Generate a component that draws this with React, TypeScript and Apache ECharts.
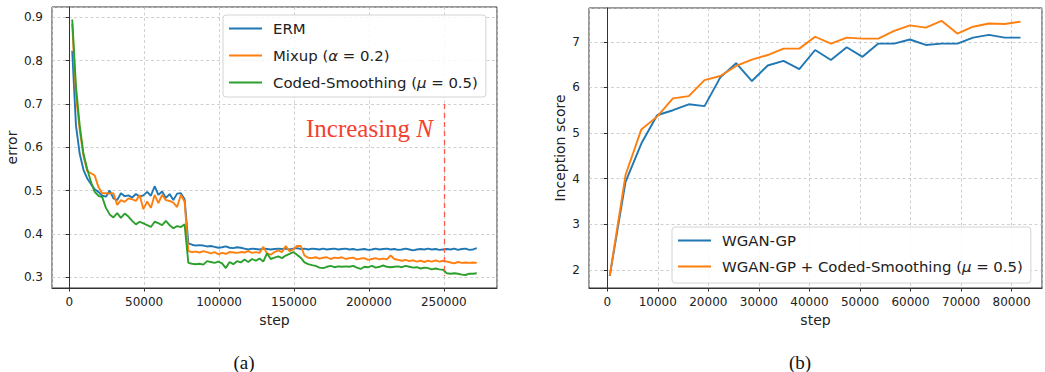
import React, { useEffect, useRef } from "react";
import * as echarts from "echarts";

// ---------- Panel (a): error vs step ----------
const STEP_START = 2000;
const STEP_GAP = 2500;
const ermError = [
  0.823, 0.65, 0.585, 0.548, 0.528, 0.515, 0.503, 0.497, 0.488, 0.486,
  0.5, 0.482, 0.478, 0.494, 0.487, 0.489, 0.484, 0.492, 0.486, 0.489,
  0.497, 0.488, 0.51, 0.49, 0.498, 0.483, 0.492, 0.478, 0.493, 0.494,
  0.48, 0.378, 0.375, 0.373, 0.374, 0.373, 0.371, 0.372, 0.37, 0.368,
  0.369, 0.371, 0.368, 0.367, 0.369, 0.368, 0.366, 0.364, 0.366, 0.365,
  0.364, 0.366, 0.365, 0.364, 0.365, 0.366, 0.365, 0.366, 0.364, 0.366,
  0.367, 0.365, 0.366, 0.364, 0.366, 0.365, 0.364, 0.366, 0.364, 0.365,
  0.366, 0.364, 0.365, 0.366, 0.364, 0.365, 0.363, 0.364, 0.365, 0.363,
  0.364, 0.366, 0.364, 0.365, 0.366, 0.364, 0.365, 0.363, 0.364, 0.366,
  0.364, 0.362, 0.364, 0.365, 0.364, 0.366, 0.364, 0.365, 0.363, 0.364,
  0.365, 0.364, 0.366, 0.363, 0.365, 0.366, 0.363, 0.364, 0.367,
];
const mixupError = [
  0.885, 0.72, 0.64, 0.58, 0.545, 0.54, 0.535, 0.508, 0.494, 0.494,
  0.493, 0.494, 0.467, 0.478, 0.474, 0.482, 0.48, 0.476, 0.49, 0.457,
  0.475, 0.46, 0.49, 0.471, 0.49, 0.478, 0.476, 0.472, 0.462, 0.49,
  0.475, 0.36, 0.358, 0.359, 0.357, 0.36, 0.358, 0.355, 0.358, 0.353,
  0.356, 0.354, 0.358, 0.357, 0.356, 0.358, 0.357, 0.36, 0.356, 0.358,
  0.356, 0.37, 0.355, 0.352, 0.358, 0.362, 0.358, 0.372, 0.36, 0.364,
  0.372, 0.372, 0.35, 0.345, 0.344, 0.346, 0.343, 0.345, 0.346, 0.342,
  0.345, 0.344, 0.346, 0.342, 0.344, 0.345, 0.341, 0.343, 0.344, 0.34,
  0.342, 0.344, 0.341, 0.343, 0.341, 0.35, 0.342, 0.34, 0.338, 0.34,
  0.337, 0.339, 0.336, 0.338, 0.335, 0.338, 0.336, 0.339, 0.336, 0.338,
  0.336, 0.334, 0.332, 0.335, 0.333, 0.334, 0.333, 0.334, 0.333,
];
const codedError = [
  0.895, 0.74, 0.65, 0.585, 0.55, 0.52, 0.497, 0.488, 0.485, 0.46,
  0.445, 0.438, 0.448, 0.437, 0.447, 0.44, 0.43, 0.422, 0.428, 0.424,
  0.42, 0.416, 0.428, 0.425, 0.42, 0.43, 0.42, 0.413, 0.418, 0.416,
  0.422, 0.333, 0.331, 0.33, 0.331, 0.329, 0.337, 0.335, 0.333, 0.336,
  0.332, 0.321, 0.335, 0.33, 0.337, 0.334, 0.341, 0.335, 0.342, 0.338,
  0.343, 0.336, 0.355, 0.342, 0.345, 0.348, 0.344, 0.35, 0.354, 0.358,
  0.352, 0.345, 0.334, 0.33, 0.328, 0.326, 0.322, 0.321, 0.324, 0.326,
  0.323, 0.325, 0.324, 0.325, 0.324, 0.326, 0.322, 0.319, 0.324, 0.323,
  0.326, 0.322, 0.324, 0.327, 0.324, 0.323, 0.324, 0.325, 0.323, 0.326,
  0.324, 0.322, 0.323, 0.32, 0.322, 0.321, 0.318, 0.32, 0.318, 0.317,
  0.309, 0.308, 0.309, 0.308, 0.306, 0.305, 0.308, 0.308, 0.309,
];
const increasingNStep = 250000;
const increasingNRange = [0.7, 0.303];

// ---------- Panel (b): Inception score vs step ----------
const ganSteps = [
  500, 3625, 6750, 9875, 13000, 16125, 19250, 22375, 25500, 28625,
  31750, 34875, 38000, 41125, 44250, 47375, 50500, 53625, 56750, 59875,
  63000, 66125, 69250, 72375, 75500, 78625, 81750,
];
const wganScore = [
  1.87, 3.93, 4.77, 5.39, 5.5, 5.63, 5.59, 6.22, 6.53, 6.14,
  6.48, 6.58, 6.4, 6.82, 6.6, 6.88, 6.67, 6.96, 6.96, 7.05,
  6.93, 6.96, 6.96, 7.09, 7.15, 7.09, 7.09,
];
const wganCodedScore = [
  1.87, 4.08, 5.08, 5.36, 5.76, 5.81, 6.16, 6.25, 6.47, 6.61,
  6.71, 6.85, 6.85, 7.11, 6.96, 7.09, 7.07, 7.07, 7.24, 7.36,
  7.31, 7.46, 7.18, 7.33, 7.4, 7.39, 7.44,
];

const BLUE = "#1f77b4";
const ORANGE = "#ff7f0e";
const GREEN = "#2ca02c";
const TXT = "#222";
const SANS = "DejaVu Sans";
const SERIF = "Liberation Serif";

const legendLabels: Record<string, string> = {
  ERM: "{f|ERM}",
  Mixup: "{f|Mixup (}{i|α}{r| = 0.2)}",
  Coded: "{f|Coded-Smoothing (}{i|μ}{r| = 0.5)}",
  "WGAN-GP": "{f|WGAN-GP}",
  "WGAN-GP + Coded": "{f|WGAN-GP + Coded-Smoothing (}{i|μ}{r| = 0.5)}",
};

const LEG_FS = 14.9;
const legendRich = {
  f: { fontFamily: SANS, fontSize: LEG_FS, color: TXT, padding: [0, 0, 0, 6] },
  r: { fontFamily: SANS, fontSize: LEG_FS, color: TXT },
  i: { fontFamily: SANS, fontSize: LEG_FS, color: TXT, fontStyle: "italic" },
};

function axisCommon() {
  return {
    axisLine: { show: true, lineStyle: { color: "#333", width: 1 } },
    axisTick: { show: true, inside: false, length: 3.5, lineStyle: { color: "#333" } },
    splitLine: { show: true, lineStyle: { color: "#c4c4c4", type: [3, 2.5], width: 0.8 } },
    nameTextStyle: { fontFamily: SANS, fontSize: 14, color: TXT },
  };
}

export default function App() {
  const ref = useRef<HTMLDivElement>(null);

  useEffect(() => {
    if (!ref.current) return;
    const chart = echarts.init(ref.current, undefined, { renderer: "svg" });
    const steps = ermError.map((_, i) => STEP_START + STEP_GAP * i);
    const pair = (xs: number[], ys: number[]) => ys.map((y, i) => [xs[i], y]);
    const lineSeries = (name: string, color: string, data: number[][], gi: number) => ({
      name,
      type: "line",
      xAxisIndex: gi,
      yAxisIndex: gi,
      data,
      showSymbol: false,
      symbol: "none",
      color,
      lineStyle: { color, width: 1.9 },
      z: 3,
    });

    const labelStyle = (margin: number, fmt?: (v: number) => string) => ({
      show: true,
      showMinLabel: false,
      showMaxLabel: false,
      margin,
      fontFamily: SANS,
      fontSize: 12,
      color: TXT,
      formatter: fmt,
    });

    const legendBase = {
      orient: "vertical",
      itemWidth: 33,
      itemHeight: 2,
      icon: "rect",
      backgroundColor: "rgba(255,255,255,0.85)",
      borderColor: "#d4d4d4",
      borderWidth: 1,
      borderRadius: 3,
      formatter: (n: string) => legendLabels[n],
      textStyle: { rich: legendRich },
    };

    const option: any = {
      animation: false,
      backgroundColor: "#fff",
      grid: [
        { left: 52, top: 7, width: 445, height: 281, show: true, borderColor: "#333", borderWidth: 1, backgroundColor: "transparent" },
        { left: 589, top: 8, width: 453, height: 280, show: true, borderColor: "#333", borderWidth: 1, backgroundColor: "transparent" },
      ],
      xAxis: [
        {
          ...axisCommon(),
          type: "value",
          gridIndex: 0,
          min: -11500,
          max: 285500,
          splitNumber: 6,
          name: "step",
          nameLocation: "middle",
          nameGap: 21,
          axisLabel: labelStyle(8, (v: number) => String(Math.round(v))),
        },
        {
          ...axisCommon(),
          type: "value",
          gridIndex: 1,
          min: -3600,
          max: 86000,
          splitNumber: 9,
          name: "step",
          nameLocation: "middle",
          nameGap: 21,
          axisLabel: labelStyle(8, (v: number) => String(Math.round(v))),
        },
      ],
      yAxis: [
        {
          ...axisCommon(),
          type: "value",
          gridIndex: 0,
          min: 0.275,
          max: 0.924,
          splitNumber: 6,
          name: "error",
          nameLocation: "middle",
          nameGap: 33,
          axisLabel: labelStyle(9, (v: number) => v.toFixed(1)),
        },
        {
          ...axisCommon(),
          type: "value",
          gridIndex: 1,
          min: 1.605,
          max: 7.74,
          splitNumber: 6,
          name: "Inception score",
          nameLocation: "middle",
          nameGap: 22,
          axisLabel: labelStyle(9, (v: number) => String(Math.round(v))),
        },
      ],
      legend: [
        {
          ...legendBase,
          data: ["ERM", "Mixup", "Coded"],
          left: 223,
          top: 15,
          padding: [6, 8, 7, 6],
          itemGap: 12,
        },
        {
          ...legendBase,
          data: ["WGAN-GP", "WGAN-GP + Coded"],
          left: 672,
          top: 227,
          padding: [6, 8, 9, 6],
          itemGap: 11,
        },
      ],
      series: [
        lineSeries("ERM", BLUE, pair(steps, ermError), 0),
        lineSeries("Mixup", ORANGE, pair(steps, mixupError), 0),
        {
          ...lineSeries("Coded", GREEN, pair(steps, codedError), 0),
          markLine: {
            silent: true,
            symbol: "none",
            label: { show: false },
            lineStyle: { color: "#ff5a4a", type: [5, 4], width: 1.3 },
            data: [
              [
                { coord: [increasingNStep, increasingNRange[0]] },
                { coord: [increasingNStep, increasingNRange[1]] },
              ],
            ],
          },
        },
        lineSeries("WGAN-GP", BLUE, pair(ganSteps, wganScore), 1),
        lineSeries("WGAN-GP + Coded", ORANGE, pair(ganSteps, wganCodedScore), 1),
      ],
      graphic: [
        {
          type: "text",
          x: 306,
          y: 128,
          style: {
            text: "{a|Increasing }{b|N}",
            verticalAlign: "middle",
            rich: {
              a: { fontFamily: SERIF, fontSize: 25, fill: "#f4412f", color: "#f4412f" },
              b: { fontFamily: SERIF, fontSize: 25, fontStyle: "italic", fill: "#f4412f", color: "#f4412f" },
            },
          },
          z: 10,
        },
        {
          type: "text",
          x: 244,
          y: 362,
          style: { text: "(a)", fontFamily: SERIF, fontSize: 19, fill: "#111", align: "center", verticalAlign: "middle" },
        },
        {
          type: "text",
          x: 800,
          y: 362,
          style: { text: "(b)", fontFamily: SERIF, fontSize: 19, fill: "#111", align: "center", verticalAlign: "middle" },
        },
      ],
    };
    chart.setOption(option);
    return () => chart.dispose();
  }, []);

  return (
    <div
      ref={ref}
      style={{ position: "fixed", left: 0, top: 0, width: 1045, height: 372, background: "#fff" }}
    />
  );
}
